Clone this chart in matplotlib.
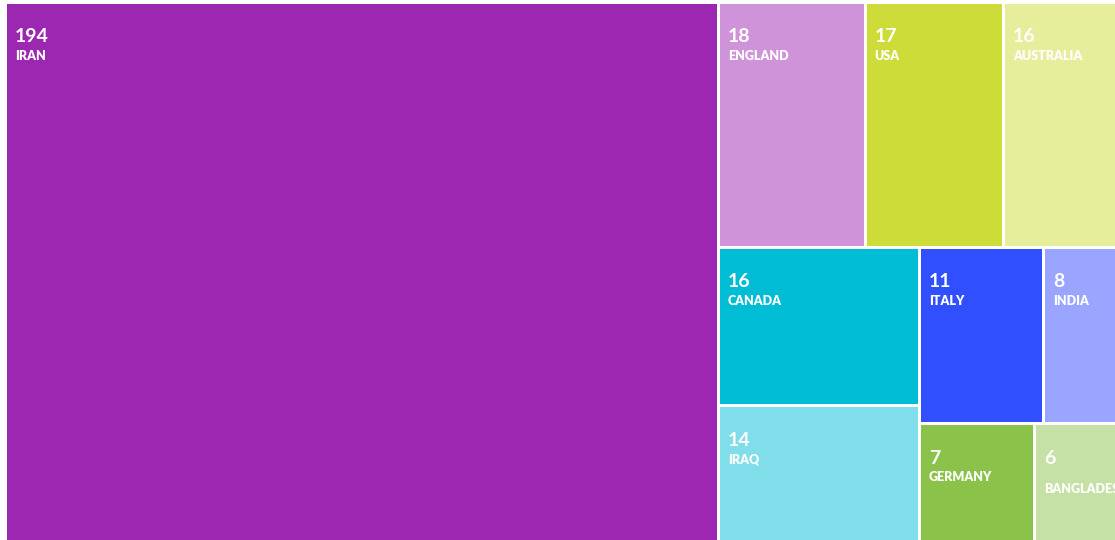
import matplotlib
matplotlib.use("Agg")
import matplotlib.pyplot as plt
import matplotlib.patches as patches

# Data
countries = ["IRAN", "ENGLAND", "USA", "AUSTRALIA", "CANADA", "IRAQ",
             "ITALY", "INDIA", "GERMANY", "BANGLADESH"]
counts = [194, 18, 17, 16, 16, 14, 11, 8, 7, 6]
colors = ["#9C27B0", "#CE93D8", "#CDDC39", "#E6EE9C", "#00BCD4", "#80DEEA",
          "#304FFE", "#99A5FF", "#8BC34A", "#C5E1A5"]

RATIO = 0.5 * (1 + 5 ** 0.5)   # echarts-style squarify ratio
GAP = 1.5                        # half of the white gap between cells


def worst(areas, side):
    s = sum(areas)
    f = side * side * RATIO
    return max(f * max(areas) / (s * s), (s * s) / (f * min(areas)))


def squarify(values, x, y, w, h):
    total = sum(values)
    scale = w * h / total
    areas = [v * scale for v in values]
    rects = []
    i = 0
    while i < len(areas):
        side = min(w, h)
        row = [areas[i]]
        j = i + 1
        while j < len(areas) and worst(row + [areas[j]], side) <= worst(row, side):
            row.append(areas[j])
            j += 1
        s = sum(row)
        if w >= h:
            # column on the left spanning the height
            cw = s / h
            cy = y
            for a in row:
                ch = a / cw
                rects.append((x, cy, cw, ch))
                cy += ch
            x += cw
            w -= cw
        else:
            # row on top spanning the width
            rh = s / w
            cx = x
            for a in row:
                rw = a / rh
                rects.append((cx, y, rw, rh))
                cx += rw
            y += rh
            h -= rh
        i = j
    return rects


fig = plt.figure(figsize=(11.15, 5.4), dpi=100)
ax = fig.add_axes([0, 0, 1, 1])
ax.set_xlim(0, 1115)
ax.set_ylim(540, 0)
ax.axis("off")

# chart area is wider than the picture (cropped on the right)
rects = squarify(counts, 5.5, 2.5, 1128.3, 542)

for (rx, ry, rw, rh), name, val, col in zip(rects, countries, counts, colors):
    ax.add_patch(patches.Rectangle((rx + GAP, ry + GAP), rw - 2 * GAP, rh - 2 * GAP,
                                   facecolor=col, edgecolor="none"))
    tx = rx + GAP + 8
    ax.text(tx, ry + GAP + 33, str(val), color="white", fontsize=14,
            fontweight="bold", family="Lato", va="center", ha="left")
    extra = 12 if len(name) * 8.3 > rw - 16 else 0
    ax.text(tx, ry + GAP + 52 + extra, name, color="white", fontsize=9,
            fontweight="heavy", family="Lato", va="center", ha="left")

fig.savefig("out.png", dpi=100)
